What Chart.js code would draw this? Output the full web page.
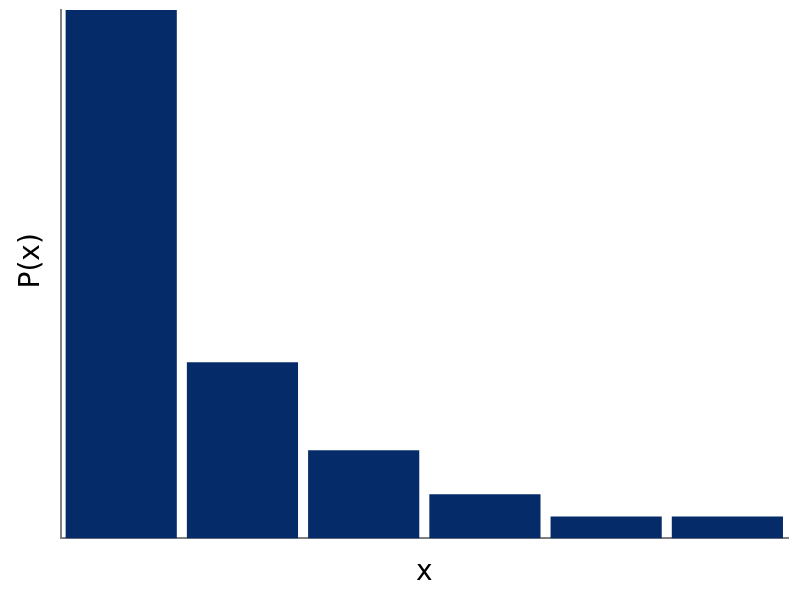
<!DOCTYPE html>
<html>
<head>
<meta charset="utf-8">
<script src="https://cdn.jsdelivr.net/npm/chart.js@4"></script>
<style>
  html, body { margin: 0; padding: 0; background: #fff; }
</style>
</head>
<body>
<canvas id="chart" width="800" height="600"></canvas>
<script>
// categories and probabilities
const categories = ["1", "2", "3", "4", "5", "6"];
const probabilities = [0.6, 0.2, 0.1, 0.05, 0.025, 0.025];

const barColor = "#062b69";
const axisColor = "#7f7f7f";

new Chart(document.getElementById("chart"), {
    type: "bar",
    data: {
        labels: categories,
        datasets: [{
            label: "P(x)",
            data: probabilities,
            backgroundColor: barColor,
            borderWidth: 0,
            categoryPercentage: 1.0,
            barPercentage: 0.917,
        }],
    },
    options: {
        responsive: false,
        animation: false,
        devicePixelRatio: 1,
        layout: { padding: { top: 10, right: 12, bottom: 10, left: 9 } },
        plugins: {
            legend: { display: false },
            tooltip: { enabled: false },
        },
        scales: {
            x: {
                grid: { display: false },
                border: { color: axisColor, width: 2 },
                ticks: { display: false },
                title: {
                    display: true,
                    text: "x",
                    color: "#000",
                    font: { family: "DejaVu Sans", size: 28 },
                    padding: { top: 10, bottom: 0 },
                },
            },
            y: {
                min: 0,
                max: 0.6,
                grid: { display: false },
                border: { color: axisColor, width: 2 },
                ticks: { display: false },
                title: {
                    display: true,
                    // leading spaces nudge the label a little above centre, as in the original
                    text: "   P(x)",
                    color: "#000",
                    font: { family: "DejaVu Sans", size: 28 },
                    padding: { top: 6, bottom: 4 },
                },
            },
        },
    },
});
</script>
</body>
</html>
